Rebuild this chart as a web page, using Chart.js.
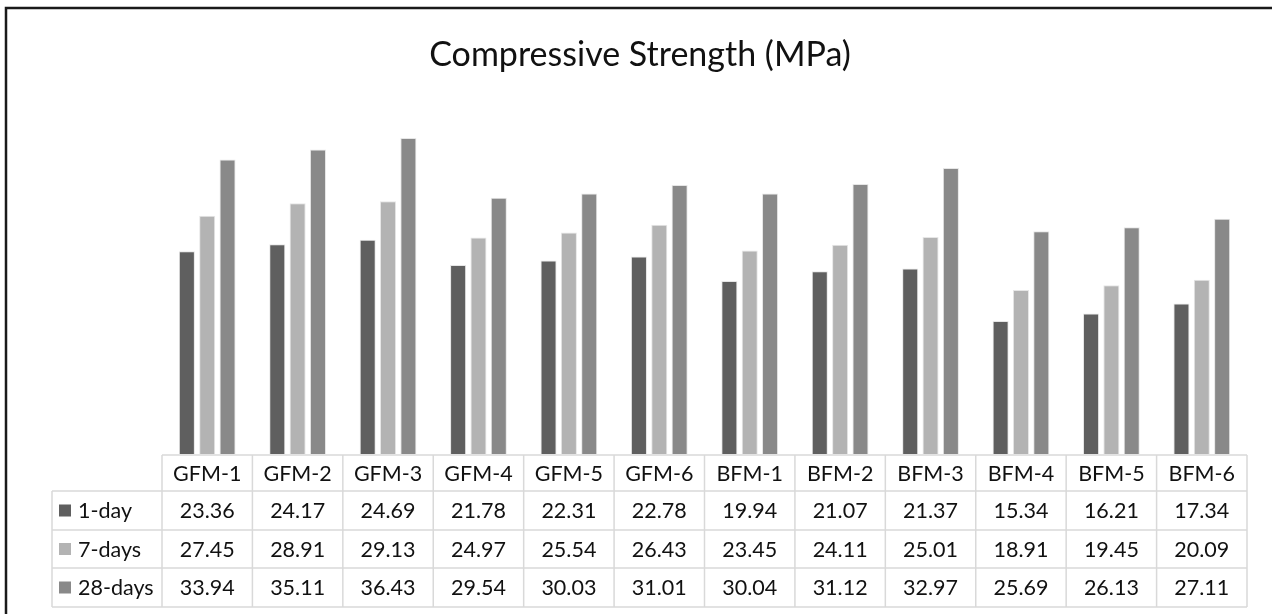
<!DOCTYPE html>
<html>
<head>
<meta charset="utf-8">
<script src="https://cdn.jsdelivr.net/npm/chart.js@4.4.1/dist/chart.umd.min.js"></script>
<style>
  html, body { margin: 0; padding: 0; background: #fff; }
  #wrap { width: 1272px; height: 614px; position: relative; }
</style>
</head>
<body>
<div id="wrap"><canvas id="strengthChart"></canvas></div>
<script>
// data
const mixes = ['GFM-1', 'GFM-2', 'GFM-3', 'GFM-4', 'GFM-5', 'GFM-6', 'BFM-1', 'BFM-2', 'BFM-3', 'BFM-4', 'BFM-5', 'BFM-6'];
const day1 = [23.36, 24.17, 24.69, 21.78, 22.31, 22.78, 19.94, 21.07, 21.37, 15.34, 16.21, 17.34];
const days7 = [27.45, 28.91, 29.13, 24.97, 25.54, 26.43, 23.45, 24.11, 25.01, 18.91, 19.45, 20.09];
const days28 = [33.94, 35.11, 36.43, 29.54, 30.03, 31.01, 30.04, 31.12, 32.97, 25.69, 26.13, 27.11];
const seriesNames = ['1-day', '7-days', '28-days'];
const seriesColors = ['#5f5f5f', '#b3b3b3', '#898989'];
const chartTitle = 'Compressive Strength (MPa)';

const FONT = 'Lato, "Open Sans", sans-serif';

// draws the outer frame, the title (centred on the whole page) and the data table under the bars
const dataTable = {
    id: 'dataTable',
    afterDraw(chart) {
        const c = chart.ctx;
        const x = chart.scales.x;
        const area = chart.chartArea;
        const cols = mixes.length;
        const colW = (area.right - area.left) / cols;
        const rowTops = [455, 491, 530, 568, 607];
        const labelLeft = 52;

        c.save();
        // frame
        c.strokeStyle = '#1a1a1a';
        c.lineWidth = 2.5;
        c.beginPath();
        c.moveTo(6, 614); c.lineTo(6, 8); c.lineTo(1272, 8);
        c.stroke();

        // title
        c.fillStyle = '#111';
        c.font = '34px ' + FONT;
        c.textAlign = 'center';
        c.textBaseline = 'middle';
        c.fillText(chartTitle, 640, 55);

        // grid
        c.strokeStyle = '#d9d9d9';
        c.lineWidth = 1.5;
        c.beginPath();
        c.moveTo(area.left, rowTops[0]); c.lineTo(area.right, rowTops[0]);
        for (let r = 1; r < rowTops.length; r++) {
            c.moveTo(labelLeft, rowTops[r]); c.lineTo(area.right, rowTops[r]);
        }
        for (let i = 0; i <= cols; i++) {
            const px = area.left + i * colW;
            c.moveTo(px, rowTops[0]); c.lineTo(px, rowTops[4]);
        }
        c.moveTo(labelLeft, rowTops[1]); c.lineTo(labelLeft, rowTops[4]);
        c.stroke();

        // header row
        c.font = '21.5px ' + FONT;
        const headY = (rowTops[0] + rowTops[1]) / 2;
        mixes.forEach((m, i) => c.fillText(m, x.getPixelForValue(i), headY + 1));

        // series rows
        const rows = [day1, days7, days28];
        rows.forEach((vals, r) => {
            const cy = (rowTops[r + 1] + rowTops[r + 2]) / 2;
            c.fillStyle = seriesColors[r];
            c.fillRect(59, cy - 6, 12, 12);
            c.fillStyle = '#111';
            c.textAlign = 'left';
            c.fillText(seriesNames[r], 78, cy + 1);
            c.textAlign = 'center';
            vals.forEach((v, i) => c.fillText(v.toFixed(2), x.getPixelForValue(i), cy + 1));
        });
        c.restore();
    }
};

const ctx = document.getElementById('strengthChart').getContext('2d');
new Chart(ctx, {
    type: 'bar',
    data: {
        labels: mixes,
        datasets: [
            { label: seriesNames[0], data: day1, backgroundColor: seriesColors[0] },
            { label: seriesNames[1], data: days7, backgroundColor: seriesColors[1] },
            { label: seriesNames[2], data: days28, backgroundColor: seriesColors[2] }
        ].map(d => Object.assign(d, {
            borderColor: '#e6e6e6',
            borderWidth: 1,
            categoryPercentage: 0.675,
            barPercentage: 0.79
        }))
    },
    options: {
        responsive: true,
        maintainAspectRatio: false,
        animation: false,
        layout: { padding: { left: 162, right: 25, top: 107, bottom: 160 } },
        scales: {
            x: { display: false },
            y: { display: false, min: 0, max: 40 }
        },
        plugins: {
            legend: { display: false },
            tooltip: { enabled: false },
            title: { display: false }
        }
    },
    plugins: [dataTable]
});
</script>
</body>
</html>
